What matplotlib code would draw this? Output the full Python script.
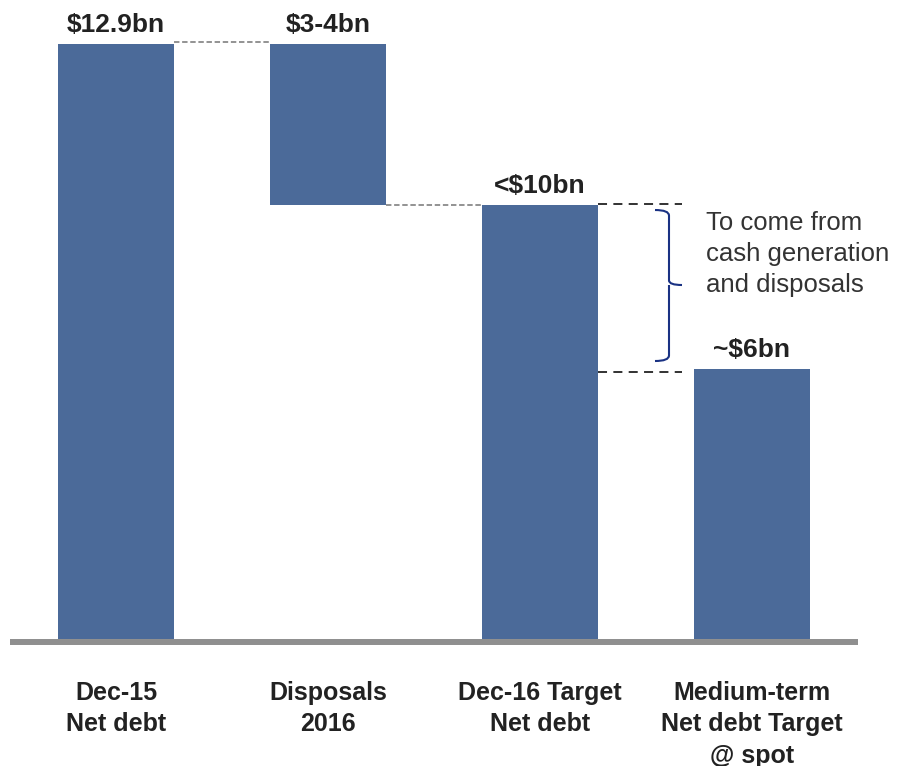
import matplotlib
matplotlib.use("Agg")
import matplotlib.pyplot as plt
from matplotlib.path import Path
from matplotlib.patches import PathPatch

plt.rcParams['font.family'] = ['Liberation Sans', 'DejaVu Sans']

categories = ["Dec-15\nNet debt", "Disposals\n2016", "Dec-16 Target\nNet debt",
              "Medium-term\nNet debt Target\n@ spot"]
bar_tops = [12.9, 12.9, 9.4, 5.85]
bar_bottoms = [0.0, 9.4, 0.0, 0.0]
value_labels = ["$12.9bn", "$3-4bn", "<$10bn", "~$6bn"]
note_text = "To come from\ncash generation\nand disposals"

BAR_COLOR = "#4B6A99"
W = 0.547

fig = plt.figure(figsize=(8.97, 7.66), dpi=100)
ax = fig.add_axes([10/897, 127/766, 848/897, 622.6/766])
ax.set_xlim(-0.5, 3.5)
ax.set_ylim(0, 13.5)
ax.axis('off')

x = list(range(len(categories)))
heights = [t - b for t, b in zip(bar_tops, bar_bottoms)]
ax.bar(x, heights, bottom=bar_bottoms, width=W, color=BAR_COLOR, zorder=2)

# baseline
ax.axhline(-0.065, color="#8f8f8f", lw=4.3, clip_on=False, zorder=3,
           solid_capstyle='butt')

# value labels
for xi, top, lab in zip(x, bar_tops, value_labels):
    ax.text(xi, top + 0.26, lab, ha='center', va='baseline', fontsize=19,
            fontweight='bold', color='#222222')

# category labels
for xi, lab in zip(x, categories):
    ax.text(xi, -0.9, lab, ha='center', va='top', fontsize=18,
            fontweight='bold', color='#222222', linespacing=1.4, clip_on=False)

# gray connectors
ax.plot([0 + W/2, 1 - W/2], [bar_tops[0] + 0.04, bar_tops[1] + 0.04], color="#8a8a8a",
        lw=1.3, ls=(0, (3, 1.5)), zorder=1)
ax.plot([1 + W/2, 2 - W/2], [bar_bottoms[1], bar_bottoms[1]], color="#8a8a8a",
        lw=1.3, ls=(0, (3, 1.5)), zorder=1)

# black connectors
xe = 2.67
ax.plot([2 + W/2, xe], [bar_tops[2] + 0.04, bar_tops[2] + 0.04], color="#222222",
        lw=1.3, ls=(0, (5, 3.5)), zorder=1)
ax.plot([2 + W/2, xe], [bar_tops[3] - 0.06, bar_tops[3] - 0.06], color="#222222",
        lw=1.3, ls=(0, (5, 3.5)), zorder=1)

# bracket
def px_to_x(px):
    return (px - 116) / 212.0

def py_to_y(py):
    return (639 - py) / 46.12

xl, xm, xt = px_to_x(655), px_to_x(669), px_to_x(682)
yt, yb = py_to_y(210), py_to_y(361)
ymid = py_to_y(285)
verts = [(xl, yt), (xm, yt), (xm, yt - 0.12),
         (xm, ymid + 0.1), (xm, ymid), (xt, ymid),
         (xm, ymid), (xm, ymid - 0.1), (xm, ymid - 0.1),
         (xm, yb + 0.12), (xm, yb), (xl, yb)]
codes = [Path.MOVETO, Path.CURVE3, Path.CURVE3,
         Path.LINETO, Path.CURVE3, Path.CURVE3,
         Path.MOVETO, Path.LINETO, Path.LINETO,
         Path.LINETO, Path.CURVE3, Path.CURVE3]
ax.add_patch(PathPatch(Path(verts, codes), fill=False, edgecolor="#1a3283",
                       lw=1.5, clip_on=False))

# note text
ax.text(px_to_x(706), py_to_y(254), note_text, ha='left', va='center',
        fontsize=18.5, color='#333333', linespacing=1.36)

fig.savefig("out.png", dpi=100)
